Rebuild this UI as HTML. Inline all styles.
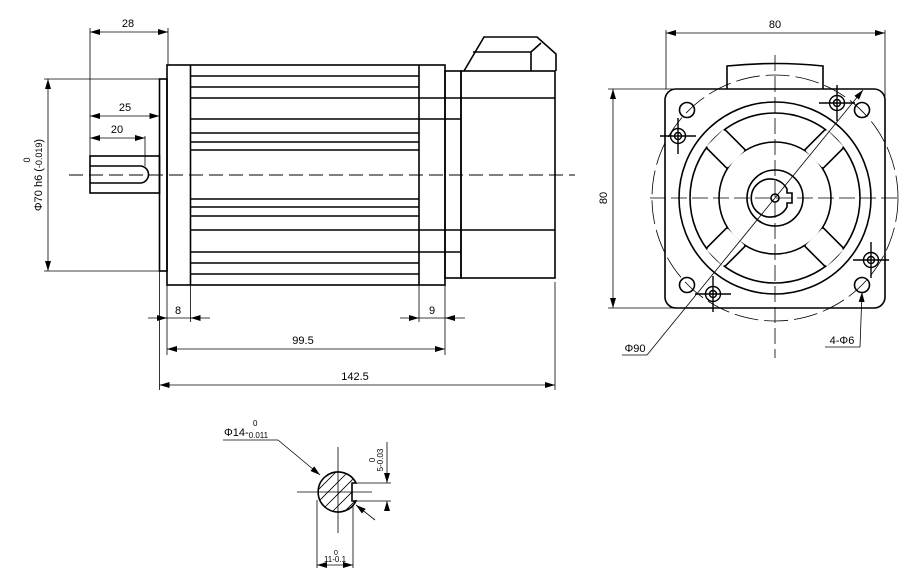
<!DOCTYPE html>
<html><head><meta charset="utf-8"><style>
html,body{margin:0;padding:0;background:#fff;}
svg{display:block;}
text{font-family:"Liberation Sans",sans-serif;fill:#000;}
</style></head><body>
<svg width="921" height="585" viewBox="0 0 921 585" xmlns="http://www.w3.org/2000/svg">
<defs>
<marker id="a" viewBox="0 0 10 6" refX="10" refY="3" markerWidth="10" markerHeight="6" orient="auto-start-reverse" markerUnits="userSpaceOnUse"><path d="M0,0 L10,3 L0,6 z" fill="#000"/></marker>
<clipPath id="sc"><circle cx="338" cy="492" r="20"/></clipPath>
<g id="h" fill="none" stroke="#000" stroke-width="1.4"><circle cx="0" cy="0" r="7.5"/><circle cx="0" cy="0" r="3.5"/><line x1="-18" y1="0" x2="18" y2="0"/><line x1="0" y1="-18" x2="0" y2="18"/></g>
<g id="rib"><rect x="830" y="186.5" width="30" height="23" fill="#fff" stroke="none"/><path d="M829.5,185 L859,185 M829.5,211 L859,211" fill="none" stroke="#000" stroke-width="1.6"/></g>
</defs>
<g fill="none" stroke="#000">
<!-- SIDE VIEW -->
<g stroke-width="1.6">
<rect x="167" y="65" width="278" height="220"/>
<rect x="159.5" y="79" width="7.5" height="192"/>
<rect x="445" y="71" width="16" height="207"/>
<rect x="461" y="71" width="94" height="207"/>
<path d="M464,71 L484,37 L537,37 L556,54 L556,71"/>
<path d="M473,52 L531,52 L531,71 M531,52 L541,43"/>
<rect x="90" y="156" width="69.5" height="37"/>
<path d="M90,166 L140,166 A8.5,8.5 0 0 1 140,183 L90,183"/>
<line x1="190.5" y1="65" x2="190.5" y2="285"/>
<line x1="419" y1="65" x2="419" y2="285"/>
<line x1="190.5" y1="76" x2="419" y2="76"/>
<line x1="190.5" y1="87" x2="419" y2="87"/>
<line x1="190.5" y1="98" x2="555" y2="98"/>
<line x1="190.5" y1="119" x2="461" y2="119"/>
<line x1="190.5" y1="133" x2="419" y2="133"/>
<line x1="190.5" y1="142" x2="419" y2="142"/>
<line x1="190.5" y1="150" x2="419" y2="150"/>
<line x1="190.5" y1="199" x2="419" y2="199"/>
<line x1="190.5" y1="207" x2="419" y2="207"/>
<line x1="190.5" y1="216" x2="419" y2="216"/>
<line x1="190.5" y1="230" x2="555" y2="230"/>
<line x1="190.5" y1="252" x2="461" y2="252"/>
<line x1="190.5" y1="263" x2="419" y2="263"/>
<line x1="190.5" y1="274" x2="419" y2="274"/>
</g>
<line x1="69" y1="175" x2="575" y2="175" stroke-width="0.9" stroke-dasharray="14,6"/>
<g stroke-width="0.8">
<line x1="90" y1="28" x2="90" y2="156"/>
<line x1="168" y1="28" x2="168" y2="65"/>
<line x1="90" y1="32" x2="168" y2="32" marker-start="url(#a)" marker-end="url(#a)"/>
<line x1="90" y1="116" x2="159.5" y2="116" marker-start="url(#a)" marker-end="url(#a)"/>
<line x1="90" y1="138" x2="145" y2="138" marker-start="url(#a)" marker-end="url(#a)"/>
<line x1="145" y1="136" x2="145" y2="166"/>
<line x1="44" y1="79" x2="159" y2="79"/>
<line x1="44" y1="271" x2="159" y2="271"/>
<line x1="48" y1="79" x2="48" y2="271" marker-start="url(#a)" marker-end="url(#a)"/>
<line x1="167" y1="285" x2="167" y2="355"/>
<line x1="190.5" y1="285" x2="190.5" y2="322"/>
<line x1="148" y1="318" x2="167" y2="318" marker-end="url(#a)"/>
<line x1="210" y1="318" x2="190.5" y2="318" marker-end="url(#a)"/>
<line x1="167" y1="318" x2="190.5" y2="318"/>
<line x1="419" y1="285" x2="419" y2="322"/>
<line x1="445" y1="285" x2="445" y2="355"/>
<line x1="400" y1="318" x2="419" y2="318" marker-end="url(#a)"/>
<line x1="465" y1="318" x2="445" y2="318" marker-end="url(#a)"/>
<line x1="419" y1="318" x2="445" y2="318"/>
<line x1="167" y1="349" x2="445" y2="349" marker-start="url(#a)" marker-end="url(#a)"/>
<line x1="159.5" y1="271" x2="159.5" y2="390"/>
<line x1="555" y1="282" x2="555" y2="390"/>
<line x1="159.5" y1="385" x2="555" y2="385" marker-start="url(#a)" marker-end="url(#a)"/>
</g>

<!-- FRONT VIEW -->
<g stroke-width="1.6">
<rect x="665" y="89" width="220" height="219" rx="11"/>
<path d="M727,89 L727,66 Q775,61 823,66 L823,89"/>
<circle cx="775" cy="198" r="96"/>
<circle cx="775" cy="198" r="85"/>
<circle cx="775" cy="198" r="56"/>
</g>
<use href="#rib" transform="rotate(45 775 198)"/>
<use href="#rib" transform="rotate(135 775 198)"/>
<use href="#rib" transform="rotate(225 775 198)"/>
<use href="#rib" transform="rotate(315 775 198)"/>
<g stroke-width="1.6">
<circle cx="775" cy="198" r="28"/>
<path d="M787,189 A19,19 0 1 0 787,207 L787,203 L792,203 L792,193 L787,193 Z"/>
<circle cx="775" cy="198" r="4"/>
<circle cx="687" cy="110" r="7.5"/>
<circle cx="862" cy="110" r="7.5"/>
<circle cx="687" cy="285" r="7.5"/>
<circle cx="862" cy="285" r="7.5"/>
</g>
<use href="#h" transform="translate(678,136)"/>
<use href="#h" transform="translate(837,103)"/>
<use href="#h" transform="translate(871,260)"/>
<use href="#h" transform="translate(713,294)"/>
<circle cx="775" cy="198" r="123" stroke-width="0.8" stroke-dasharray="24,6"/>
<g stroke-width="0.8" stroke-dasharray="16,5">
<line x1="650" y1="198" x2="898" y2="198"/>
<line x1="775" y1="55" x2="775" y2="358"/>
</g>
<g stroke-width="0.8">
<line x1="666" y1="30" x2="666" y2="89"/>
<line x1="885" y1="30" x2="885" y2="140"/>
<line x1="666" y1="33" x2="885" y2="33" marker-start="url(#a)" marker-end="url(#a)"/>
<line x1="608" y1="89" x2="680" y2="89"/>
<line x1="608" y1="308" x2="690" y2="308"/>
<line x1="613" y1="89" x2="613" y2="308" marker-start="url(#a)" marker-end="url(#a)"/>
<line x1="647" y1="355" x2="863" y2="90" marker-end="url(#a)"/>
<line x1="622" y1="355" x2="647" y2="355"/>
<line x1="860" y1="347" x2="862" y2="292" marker-end="url(#a)"/>
<line x1="825" y1="347" x2="860" y2="347"/>
</g>

<!-- SECTION -->
<g clip-path="url(#sc)" stroke-width="0.8">
<line x1="300" y1="520" x2="360" y2="460"/>
<line x1="306" y1="526" x2="366" y2="466"/>
<line x1="312" y1="532" x2="372" y2="472"/>
<line x1="318" y1="538" x2="378" y2="478"/>
<line x1="324" y1="544" x2="384" y2="484"/>
<line x1="294" y1="514" x2="354" y2="454"/>
<line x1="288" y1="508" x2="348" y2="448"/>
<line x1="282" y1="502" x2="342" y2="442"/>
<line x1="276" y1="496" x2="336" y2="436"/>
<rect x="352" y="483" width="20" height="17" fill="#fff" stroke="none"/>
</g>
<path d="M356,483 A20,20 0 1 0 356,501 L352,501 L352,483 Z" stroke-width="1.6" fill="none"/>
<g stroke-width="0.8">
<line x1="297" y1="492" x2="372" y2="492"/>
<line x1="338" y1="447" x2="338" y2="533"/>
<line x1="356" y1="483" x2="391" y2="483"/>
<line x1="356" y1="501" x2="391" y2="501"/>
<line x1="387" y1="442" x2="387" y2="483" marker-end="url(#a)"/>
<line x1="387" y1="510" x2="387" y2="501" marker-end="url(#a)"/>
<line x1="223" y1="440" x2="278" y2="440"/>
<line x1="278" y1="440" x2="320" y2="475" marker-end="url(#a)"/>
<line x1="375" y1="520" x2="356" y2="505" marker-end="url(#a)"/>
<line x1="317" y1="500" x2="317" y2="568"/>
<line x1="353" y1="505" x2="353" y2="568"/>
<line x1="317" y1="565" x2="353" y2="565" marker-start="url(#a)" marker-end="url(#a)"/>
</g>
</g>

<g font-size="11">
<text x="128" y="27" text-anchor="middle">28</text>
<text x="125" y="111" text-anchor="middle">25</text>
<text x="117" y="133" text-anchor="middle">20</text>
<text x="178" y="314" text-anchor="middle">8</text>
<text x="432" y="314" text-anchor="middle">9</text>
<text x="303" y="344" text-anchor="middle">99.5</text>
<text x="355" y="380" text-anchor="middle">142.5</text>
<text transform="translate(42,175) rotate(-90)" text-anchor="middle">Φ70 h6 (<tspan font-size="9">-0.019</tspan>)</text>
<text transform="translate(30,160) rotate(-90)" text-anchor="middle" font-size="9">0</text>
<text x="775" y="28" text-anchor="middle">80</text>
<text transform="translate(607,198) rotate(-90)" text-anchor="middle">80</text>
<text x="635" y="352" text-anchor="middle">Φ90</text>
<text x="842" y="344" text-anchor="middle">4-Φ6</text>
<text x="224" y="436">Φ14-<tspan font-size="8" dy="2">0.011</tspan></text>
<text x="253" y="426" font-size="8">0</text>
<text transform="translate(383,460) rotate(-90)" text-anchor="middle" font-size="8">5-0.03</text>
<text transform="translate(375,460) rotate(-90)" text-anchor="middle" font-size="8">0</text>
<text x="335" y="562" text-anchor="middle" font-size="8">11-0.1</text>
<text x="336" y="555" text-anchor="middle" font-size="7">0</text>
</g>
</svg>
</body></html>
